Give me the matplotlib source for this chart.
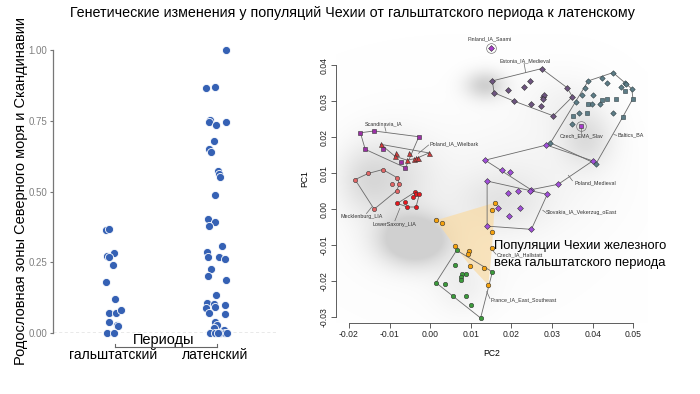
import numpy as np
import matplotlib.pyplot as plt

plt.rcParams['font.family'] = ['Liberation Sans', 'DejaVu Sans']

title = "Генетические изменения у популяций Чехии от гальштатского периода к латенскому"
y_label = "Родословная зоны Северного моря и Скандинавии"
periods = ["гальштатский", "латенский"]

# left panel: ancestry per individual (jitter offset, value)
hall_dx = [-0.069, -0.036, -0.056, 0.010, -0.003, -0.069, 0.023, -0.036, 0.029, 0.075,
           -0.042, 0.036, 0.049, -0.056, 0.010, -0.040]
hall_val = [0.363, 0.368, 0.271, 0.282, 0.242, 0.180, 0.120, 0.070, 0.072, 0.083,
            0.040, 0.027, 0.025, 0.0, 0.0, 0.270]
late_dx = [0.108, -0.085, 0.003, -0.046, -0.062, 0.111, 0.007, -0.013, -0.056, -0.039,
           0.029, 0.036, 0.049, 0.000, -0.072, 0.003, -0.062, 0.069, -0.082, -0.065,
           0.036, 0.101, -0.039, -0.072, 0.105, 0.013, -0.075, -0.007, 0.095, -0.085,
           -0.003, -0.062, 0.101, 0.000, 0.020, -0.007, 0.092, -0.049, 0.000, 0.049,
           0.098, 0.114, 0.033]
late_val = [1.000, 0.867, 0.869, 0.752, 0.746, 0.746, 0.736, 0.680, 0.649, 0.639,
            0.571, 0.561, 0.550, 0.486, 0.402, 0.392, 0.377, 0.307, 0.288, 0.269,
            0.267, 0.261, 0.225, 0.202, 0.188, 0.136, 0.107, 0.101, 0.098, 0.088,
            0.091, 0.070, 0.066, 0.040, 0.027, 0.018, 0.012, 0.0, 0.0, 0.0,
            0.0, 0.0, 0.0]

# right panel: PCA groups (PC2, PC1)
finland_x = [0.0149]
finland_y = [0.0446]
czslav_x = [0.0370]
czslav_y = [0.0232]
estonia_x = [0.0274, 0.0153, 0.0157, 0.0191, 0.0231, 0.0245, 0.0206, 0.0249, 0.0273, 0.0278,
             0.0281, 0.0277, 0.0303, 0.0337, 0.0350]
estonia_y = [0.0390, 0.0356, 0.0323, 0.0332, 0.0338, 0.0356, 0.0300, 0.0293, 0.0287, 0.0312,
             0.0318, 0.0307, 0.0259, 0.0337, 0.0312]
baltic_d_x = [0.0450, 0.0423, 0.0389, 0.0434, 0.0469, 0.0479, 0.0483, 0.0496, 0.0382, 0.0374,
              0.0401, 0.0360, 0.0397, 0.0418, 0.0367, 0.0449, 0.0348, 0.0296, 0.0408]
baltic_d_y = [0.0379, 0.0363, 0.0356, 0.0351, 0.0340, 0.0351, 0.0346, 0.0334, 0.0335, 0.0318,
              0.0317, 0.0298, 0.0293, 0.0293, 0.0267, 0.0268, 0.0236, 0.0184, 0.0126]
baltic_s_x = [0.0480, 0.0499, 0.0389, 0.0422, 0.0434, 0.0457, 0.0385, 0.0352, 0.0474]
baltic_s_y = [0.0328, 0.0307, 0.0291, 0.0303, 0.0305, 0.0305, 0.0267, 0.0258, 0.0256]
scand_x = [-0.0172, -0.0138, -0.0028, -0.0160, -0.0117, -0.0072, -0.0061]
scand_y = [0.0212, 0.0217, 0.0201, 0.0166, 0.0167, 0.0132, 0.0115]
wielbark_x = [-0.0122, -0.0085, -0.0087, -0.0053, -0.0057, -0.0039, -0.0036, -0.0030, -0.0003]
wielbark_y = [0.0180, 0.0156, 0.0147, 0.0157, 0.0136, 0.0140, 0.0143, 0.0143, 0.0156]
meck_x = [-0.0185, -0.0153, -0.0117, -0.0081, -0.0094, -0.0076, -0.0083, -0.0138]
meck_y = [0.0082, 0.0099, 0.0110, 0.0087, 0.0069, 0.0069, 0.0051, 0.0000]
saxony_x = [-0.0081, -0.0063, -0.0038, -0.0035, -0.0027, -0.0042, -0.0056, -0.0035]
saxony_y = [0.0016, 0.0020, 0.0047, 0.0043, 0.0041, 0.0034, 0.0006, 0.0006]
polmed_x = [0.0135, 0.0286, 0.0400, 0.0176, 0.0197, 0.0248, 0.0315]
polmed_y = [0.0136, 0.0178, 0.0134, 0.0108, 0.0102, 0.0054, 0.0069]
slovak_x = [0.0140, 0.0191, 0.0217, 0.0245, 0.0288, 0.0194, 0.0222, 0.0167, 0.0140, 0.0249]
slovak_y = [0.0078, 0.0044, 0.0051, 0.0051, 0.0041, -0.0019, 0.0003, 0.0002, -0.0047, -0.0056]
hall_x = [0.0014, 0.0028, 0.0159, 0.0153, 0.0153, 0.0152, 0.0061, 0.0096, 0.0092, 0.0098,
          0.0133, 0.0143]
hall_y = [-0.0031, -0.0038, 0.0018, -0.0003, -0.0063, -0.0109, -0.0103, -0.0117, -0.0125, -0.0157,
          -0.0163, -0.0211]
france_x = [0.0065, 0.0062, 0.0079, 0.0087, 0.0076, 0.0075, 0.0014, 0.0037, 0.0057, 0.0089,
            0.0100, 0.0124, 0.0153]
france_y = [-0.0114, -0.0156, -0.0179, -0.0179, -0.0188, -0.0197, -0.0204, -0.0208, -0.0240, -0.0241,
            -0.0265, -0.0302, -0.0174]

labels = ["Finland_IA_Saami", "Estonia_IA_Medieval", "Baltics_BA", "Czech_EMA_Slav",
          "Scandinavia_IA", "Poland_IA_Wielbark", "Mecklenburg_LIA", "LowerSaxony_LIA",
          "Poland_Medieval", "Slovakia_IA_Vekerzug_oEast", "Czech_IA_Hallstatt",
          "France_IA_East_Southeast"]
label_x = [0.0145, 0.0233, 0.0460, 0.0372, -0.0114, -0.0003, -0.0168, -0.0089,
           0.0354, 0.0285, 0.0163, 0.0149]
label_y = [0.0472, 0.0413, 0.0205, 0.0204, 0.0238, 0.0180, -0.0019, -0.0043,
           0.0073, -0.0010, -0.0128, -0.0251]
label_ha = ["center", "center", "left", "center", "center", "left", "center", "center",
            "left", "left", "left", "left"]
lead_x0 = [None, 0.0231, 0.0452, 0.0370, -0.0112, -0.0004, -0.0157, -0.0087,
           0.0340, 0.0277, 0.0153, 0.0139]
lead_y0 = [None, 0.0405, 0.0207, 0.0225, 0.0229, 0.0178, -0.0012, -0.0032,
           0.0094, -0.0003, -0.0114, -0.0229]
lead_x1 = [None, 0.0235, 0.0459, 0.0370, -0.0109, -0.0029, -0.0144, -0.0075,
           0.0350, 0.0284, 0.0162, 0.0147]
lead_y1 = [None, 0.0379, 0.0205, 0.0211, 0.0216, 0.0155, 0.0006, 0.0002,
           0.0079, -0.0009, -0.0125, -0.0248]

# background reference cloud (approximate density blobs)
cloud_cx = [-0.0040, -0.0090, -0.0165, 0.0135, 0.0385, 0.0170, 0.0080, 0.0250, 0.0330, 0.0050]
cloud_cy = [-0.0085, 0.0090, 0.0080, 0.0344, 0.0195, 0.0020, -0.0210, 0.0100, 0.0300, -0.0020]
cloud_sx = [0.0060, 0.0070, 0.0045, 0.0035, 0.0045, 0.0075, 0.0050, 0.0140, 0.0070, 0.0250]
cloud_sy = [0.0048, 0.0080, 0.0065, 0.0028, 0.0055, 0.0055, 0.0055, 0.0110, 0.0060, 0.0200]
cloud_w = [1.2, 0.40, 0.30, 0.7, 0.45, 0.28, 0.2, 0.12, 0.15, 0.07]


def hull(xs, ys):
    pts = sorted(set(zip(xs, ys)))
    if len(pts) < 3:
        return pts

    def cross(o, a, b):
        return (a[0] - o[0]) * (b[1] - o[1]) - (a[1] - o[1]) * (b[0] - o[0])

    lower, upper = [], []
    for p in pts:
        while len(lower) >= 2 and cross(lower[-2], lower[-1], p) <= 0:
            lower.pop()
        lower.append(p)
    for p in reversed(pts):
        while len(upper) >= 2 and cross(upper[-2], upper[-1], p) <= 0:
            upper.pop()
        upper.append(p)
    return lower[:-1] + upper[:-1]


fig = plt.figure(figsize=(7, 3.94), dpi=100)
fig.text(0.503, 0.968, title, ha="center", va="center", fontsize=10.3)

# ---------------- left panel ----------------
ax1 = fig.add_axes([0.0753, 0.1548, 0.3204, 0.7183])
ax1.set_xlim(0.409, 2.608)
ax1.set_ylim(0, 1)
blue = "#3561b4"
ax1.scatter([1 + d for d in hall_dx], hall_val, s=34, color=blue, edgecolor="white",
            linewidth=0.6, clip_on=False, zorder=3)
ax1.scatter([2 + d for d in late_dx], late_val, s=34, color=blue, edgecolor="white",
            linewidth=0.6, clip_on=False, zorder=3)
ax1.axhline(0, color="#555555", lw=0.9, ls=(0, (2.5, 2)), zorder=1)
for s in ["top", "right", "bottom"]:
    ax1.spines[s].set_visible(False)
ax1.spines["left"].set_color("#777777")
ax1.spines["left"].set_linewidth(0.9)
ax1.set_yticks([0, 0.25, 0.5, 0.75, 1.0])
ax1.set_yticklabels(["0.00", "0.25", "0.50", "0.75", "1.00"])
ax1.tick_params(axis="y", length=2.5, width=0.8, color="#777777", labelsize=7,
                labelcolor="#808080", pad=1.5)
ax1.set_xticks([])
fig.text(0.030, 0.515, y_label, rotation=90, ha="center", va="center", fontsize=10.5)

# period axis under the points
ax1.plot([1.02, 2.02], [-0.050, -0.050], color="#666666", lw=0.8, clip_on=False)
ax1.plot([1.02, 1.02], [-0.050, -0.040], color="#666666", lw=0.8, clip_on=False)
ax1.plot([2.02, 2.02], [-0.050, -0.040], color="#666666", lw=0.8, clip_on=False)
ax1.text(1.5, -0.025, "Периоды", ha="center", va="center", fontsize=10.5, clip_on=False)
ax1.text(1.0, -0.078, periods[0], ha="center", va="center", fontsize=10, clip_on=False)
ax1.text(2.0, -0.078, periods[1], ha="center", va="center", fontsize=10, clip_on=False)

# ---------------- right panel ----------------
ax2 = fig.add_axes([0.48, 0.181, 0.4451, 0.7317])
x0, x1, y0, y1 = -0.0232, 0.0535, -0.0315, 0.0485
ax2.set_xlim(x0, x1)
ax2.set_ylim(y0, y1)

gx, gy = np.meshgrid(np.linspace(x0, x1, 400), np.linspace(y0, y1, 400))
dens = np.zeros_like(gx)
for cx, cy, sx, sy, w in zip(cloud_cx, cloud_cy, cloud_sx, cloud_sy, cloud_w):
    dens += w * np.exp(-0.5 * (((gx - cx) / sx) ** 2 + ((gy - cy) / sy) ** 2))
img = np.zeros(gx.shape + (4,))
img[..., :3] = 0.81
img[..., 3] = np.clip(dens * 1.4, 0, 1) * 0.95
ax2.imshow(img, extent=[x0, x1, y0, y1], origin="lower", aspect="auto",
           interpolation="bilinear", zorder=0)

hull_col = "#6a6a6a"
hp = hull(hall_x, hall_y)
ax2.fill([p[0] for p in hp], [p[1] for p in hp], color="#f9dca8", alpha=0.75,
         lw=0, zorder=1)

groups = [
    (estonia_x, estonia_y, "D", "#6e5580", 3.0),
    (baltic_d_x + baltic_s_x, baltic_d_y + baltic_s_y, None, None, None),
    (scand_x, scand_y, "s", "#9b2ea6", 3.0),
    (wielbark_x, wielbark_y, "^", "#d23a3a", 3.6),
    (meck_x, meck_y, "o", "#e36666", 3.0),
    (saxony_x, saxony_y, "o", "#e8181e", 3.0),
    (polmed_x, polmed_y, "D", "#a24fdb", 3.0),
    (slovak_x, slovak_y, "D", "#a24fdb", 3.0),
    (france_x, france_y, "o", "#3b9a3b", 3.2),
]
for xs, ys, mk, col, ms in groups:
    hp = hull(xs, ys)
    ax2.plot([p[0] for p in hp] + [hp[0][0]], [p[1] for p in hp] + [hp[0][1]],
             color=hull_col, lw=0.6, zorder=2)
    if mk is not None:
        ax2.plot(xs, ys, ls="none", marker=mk, ms=ms, mfc=col, mec="#333333",
                 mew=0.4, zorder=4)

ax2.plot(baltic_d_x, baltic_d_y, ls="none", marker="D", ms=2.8, mfc="#5d7d87",
         mec="#2f3f44", mew=0.4, zorder=4)
ax2.plot(baltic_s_x, baltic_s_y, ls="none", marker="s", ms=2.8, mfc="#5d7d87",
         mec="#2f3f44", mew=0.4, zorder=4)
ax2.plot(hall_x, hall_y, ls="none", marker="o", ms=3.3, mfc="#f5a10c",
         mec="#333333", mew=0.4, zorder=4)

ax2.plot(finland_x, finland_y, ls="none", marker="D", ms=3.0, mfc="#a83ccc",
         mec="#333333", mew=0.4, zorder=5)
ax2.plot(finland_x, finland_y, ls="none", marker="o", ms=7, mfc="none",
         mec="#777777", mew=0.5, zorder=5)
ax2.plot(czslav_x, czslav_y, ls="none", marker="s", ms=3.0, mfc="#a83ccc",
         mec="#333333", mew=0.4, zorder=5)
ax2.plot(czslav_x, czslav_y, ls="none", marker="o", ms=7, mfc="none",
         mec="#777777", mew=0.5, zorder=5)

for i, lab in enumerate(labels):
    ax2.text(label_x[i], label_y[i], lab, ha=label_ha[i], va="center", fontsize=3.9,
             color="#333333", zorder=6)
    if lead_x0[i] is not None:
        ax2.plot([lead_x0[i], lead_x1[i]], [lead_y0[i], lead_y1[i]], color=hull_col,
                 lw=0.5, zorder=2)

ax2.text(0.0158, -0.0101, "Популяции Чехии железного", ha="left", va="center",
         fontsize=9.4, zorder=7)
ax2.text(0.0158, -0.0148, "века гальштатского периода", ha="left", va="center",
         fontsize=9.4, zorder=7)

for s in ["top", "right"]:
    ax2.spines[s].set_visible(False)
ax2.spines["left"].set_bounds(-0.03, 0.04)
ax2.spines["bottom"].set_bounds(-0.02, 0.05)
for s in ["left", "bottom"]:
    ax2.spines[s].set_color("#444444")
    ax2.spines[s].set_linewidth(0.6)
xt = [-0.02, -0.01, 0.0, 0.01, 0.02, 0.03, 0.04, 0.05]
yt = [-0.03, -0.02, -0.01, 0.0, 0.01, 0.02, 0.03, 0.04]
ax2.set_xticks(xt)
ax2.set_xticklabels(["%.2f" % v for v in xt])
ax2.set_yticks(yt)
ax2.set_yticklabels(["%.2f" % v for v in yt], rotation=90, va="center")
ax2.tick_params(length=3.5, width=0.6, color="#444444", labelsize=6.2,
                labelcolor="#222222", pad=2)
ax2.set_xlabel("PC2", fontsize=6.2, labelpad=7)
ax2.set_ylabel("PC1", fontsize=6.2, labelpad=7)

fig.savefig("out.png", dpi=100)
